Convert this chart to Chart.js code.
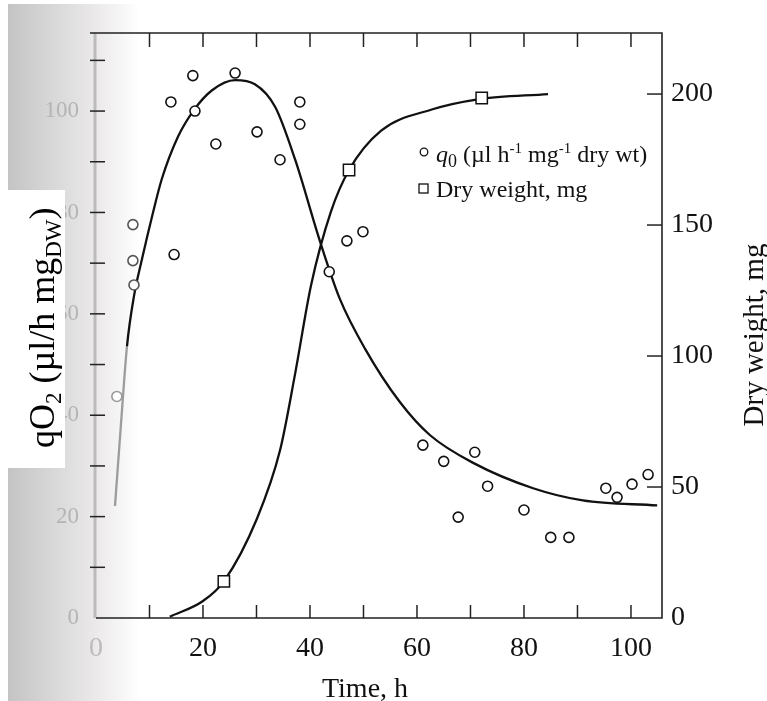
<!DOCTYPE html>
<html><head><meta charset="utf-8">
<script src="https://cdn.jsdelivr.net/npm/chart.js@4.4.1/dist/chart.umd.min.js"></script>
<style>html,body{margin:0;padding:0;background:#fff;}#wrap{width:767px;height:701px;position:relative}</style>
</head><body><div id="wrap"><canvas id="c" width="767" height="701"></canvas></div>
<script>
// ---- data ----
const q0Time  = [3.9, 6.9, 6.9, 7.1, 14.6, 14.0, 18.1, 18.5, 22.4, 26.0, 30.1, 34.4, 38.1, 38.1, 43.6, 46.9, 49.9, 61.1, 65.0, 67.7, 70.8, 73.2, 80.0, 85.0, 88.4, 95.3, 97.4, 100.2, 103.2];
const q0Value = [43.7, 77.6, 70.5, 65.7, 71.7, 101.8, 107.0, 100.0, 93.5, 107.5, 95.9, 90.4, 101.8, 97.4, 68.3, 74.4, 76.2, 34.1, 30.9, 19.9, 32.7, 26.0, 21.3, 15.9, 15.9, 25.6, 23.8, 26.4, 28.3];
const q0FitTime  = [3.55, 4.67, 5.79, 7.1, 8.6, 10.5, 12.3, 15.3, 18.3, 21.7, 26.0, 29.7, 33.5, 37.2, 41.9, 45.6, 50.3, 56.8, 62.4, 70.5, 81.7, 91.0, 104.9];
const q0FitValue = [22.1, 38.3, 53.6, 63.5, 70.8, 79.3, 86.6, 94.9, 100.2, 104.1, 106.1, 105.3, 100.8, 90.5, 74.2, 62.9, 53.1, 42.6, 36.1, 30.6, 25.6, 23.2, 22.2];
const dwTime  = [23.9, 47.3, 72.1];
const dwValue = [14.0, 171.0, 198.5];
const dwFitTime  = [13.8, 20.0, 23.9, 30.1, 34.4, 37.2, 40.2, 43.9, 47.3, 53.3, 62.6, 71.4, 84.5];
const dwFitValue = [0.5, 6.5, 14.0, 38.0, 64.0, 93.0, 127.0, 155.0, 171.0, 186.0, 194.0, 198.0, 200.0];
const timeTicks = [0, 10, 20, 30, 40, 50, 60, 70, 80, 90, 100];
const q0Ticks   = [0, 10, 20, 30, 40, 50, 60, 70, 80, 90, 100, 110];
const dwTicks   = [0, 50, 100, 150, 200];
const xTitle = 'Time, h';
const yRightTitle = 'Dry weight, mg';
const legendQ0 = ['q', '0', ' (µl h', '-1', ' mg', '-1', ' dry wt)'];
const legendDW = 'Dry weight, mg';

const SERIF = "'Liberation Serif', 'Times New Roman', serif";
const pts = (xs, ys) => xs.map((x, i) => ({x, y: ys[i]}));

const drawPlugin = {
  id: 'paper',
  beforeDraw(chart) {
    const ctx = chart.ctx;
    ctx.save();
    ctx.fillStyle = '#fff';
    ctx.fillRect(0, 0, 767, 701);
    const g = ctx.createLinearGradient(8, 0, 140, 0);
    g.addColorStop(0, 'rgb(196,196,196)');
    g.addColorStop(0.4, 'rgb(220,219,219)');
    g.addColorStop(0.68, 'rgb(236,234,234)');
    g.addColorStop(1, 'rgb(255,255,255)');
    ctx.fillStyle = g;
    ctx.fillRect(8, 4, 132, 697);
    ctx.restore();
  },
  afterDraw(chart) {
    const ctx = chart.ctx;
    const a = chart.chartArea;
    const sx = chart.scales.x, sy = chart.scales.y, sy2 = chart.scales.y2;
    ctx.save();
    // left axis (faded) line
    ctx.strokeStyle = 'rgba(175,175,175,0.8)';
    ctx.lineWidth = 3;
    ctx.beginPath(); ctx.moveTo(a.left - 1, a.top); ctx.lineTo(a.left - 1, a.bottom); ctx.stroke();
    // frame
    ctx.lineWidth = 1.6;
    ctx.strokeStyle = '#222';
    ctx.beginPath();
    ctx.moveTo(a.left - 6, a.top); ctx.lineTo(a.right, a.top); ctx.lineTo(a.right, a.bottom); ctx.lineTo(a.left, a.bottom);
    ctx.stroke();
    // inner ticks
    ctx.lineWidth = 1.5;
    timeTicks.forEach(v => {
      if (v === 0) return;
      const px = sx.getPixelForValue(v);
      ctx.beginPath(); ctx.moveTo(px, a.bottom); ctx.lineTo(px, a.bottom - 13); ctx.stroke();
      ctx.beginPath(); ctx.moveTo(px, a.top); ctx.lineTo(px, a.top + 14); ctx.stroke();
    });
    q0Ticks.forEach(v => {
      if (v === 0) return;
      const py = sy.getPixelForValue(v);
      ctx.beginPath(); ctx.moveTo(a.left - 6, py); ctx.lineTo(a.left + 9, py); ctx.stroke();
    });
    dwTicks.forEach(v => {
      if (v === 0) return;
      const py = sy2.getPixelForValue(v);
      ctx.beginPath(); ctx.moveTo(a.right, py); ctx.lineTo(a.right - 15, py); ctx.stroke();
    });
    // x title
    ctx.fillStyle = '#111';
    ctx.font = '28px ' + SERIF;
    ctx.textAlign = 'center';
    ctx.textBaseline = 'alphabetic';
    ctx.fillText(xTitle, 365, 697);
    // right title
    ctx.save();
    ctx.translate(763, 335);
    ctx.rotate(-Math.PI / 2);
    ctx.font = '29px ' + SERIF;
    ctx.textAlign = 'center';
    ctx.fillText(yRightTitle, 0, 0);
    ctx.restore();
    // legend
    ctx.textAlign = 'left';
    ctx.lineWidth = 1.3;
    ctx.strokeStyle = '#111';
    ctx.beginPath(); ctx.arc(424, 152, 3.8, 0, Math.PI * 2); ctx.stroke();
    ctx.strokeRect(419, 184, 9, 9);
    let x = 436;
    const base = 162;
    const seg = (t, font, dy) => { ctx.font = font; ctx.fillText(t, x, base + dy); x += ctx.measureText(t).width; };
    seg(legendQ0[0], 'italic 24px ' + SERIF, 0);
    seg(legendQ0[1], '18px ' + SERIF, 5);
    seg(legendQ0[2], '24px ' + SERIF, 0);
    seg(legendQ0[3], '15px ' + SERIF, -9);
    seg(legendQ0[4], '24px ' + SERIF, 0);
    seg(legendQ0[5], '15px ' + SERIF, -9);
    seg(legendQ0[6], '24px ' + SERIF, 0);
    ctx.font = '24px ' + SERIF;
    ctx.fillText(legendDW, 436, 197);
    // left title in white box
    ctx.fillStyle = '#fff';
    ctx.fillRect(8, 190, 57, 278);
    ctx.fillStyle = '#000';
    ctx.save();
    ctx.translate(54, 448);
    ctx.rotate(-Math.PI / 2);
    let t = 0;
    const seg2 = (s, font, dy) => { ctx.font = font; ctx.fillText(s, t, dy); t += ctx.measureText(s).width; };
    seg2('qO', '36px ' + SERIF, 0);
    seg2('2', '23px ' + SERIF, 7);
    seg2(' (µl/h mg', '36px ' + SERIF, 0);
    seg2('DW', '23px ' + SERIF, 7);
    seg2(')', '36px ' + SERIF, 0);
    ctx.restore();
    ctx.restore();
  }
};

new Chart(document.getElementById('c'), {
  type: 'scatter',
  data: {
    datasets: [
      { label: 'q0 (µl h-1 mg-1 dry wt)', data: pts(q0Time, q0Value), yAxisID: 'y', order: 0,
        pointStyle: 'circle', pointRadius: 5, pointBorderWidth: 1.6, pointBackgroundColor: '#fff',
        pointBorderColor: c => { const v = c.raw ? c.raw.x : 50; return v < 5 ? '#9a9a9a' : (v < 8 ? '#555' : '#111'); } },
      { label: 'Dry weight, mg', data: pts(dwTime, dwValue), yAxisID: 'y2', order: 0,
        pointStyle: 'rect', pointRadius: 8, pointBorderWidth: 1.5, pointBackgroundColor: '#fff', pointBorderColor: '#111' },
      { label: 'q0 fit', data: pts(q0FitTime, q0FitValue), yAxisID: 'y', order: 1, showLine: true,
        pointRadius: 0, borderWidth: 2.3, borderColor: '#111', cubicInterpolationMode: 'monotone',
        segment: { borderColor: c => c.p0.parsed.x < 5.5 ? '#9c9c9c' : '#111' } },
      { label: 'Dry weight fit', data: pts(dwFitTime, dwFitValue), yAxisID: 'y2', order: 1, showLine: true,
        pointRadius: 0, borderWidth: 2.3, borderColor: '#111', cubicInterpolationMode: 'monotone' }
    ]
  },
  options: {
    responsive: false, animation: false, devicePixelRatio: 1,
    layout: { padding: { top: 33, left: 0, right: 0, bottom: 0 } },
    plugins: { legend: { display: false }, tooltip: { enabled: false } },
    scales: {
      x: {
        type: 'linear', position: 'bottom', min: 0, max: 105.8,
        afterBuildTicks: s => { s.ticks = timeTicks.map(v => ({ value: v })); },
        afterFit: s => { s.height = 83; },
        grid: { display: false, drawTicks: false }, border: { display: false },
        ticks: { padding: 14, autoSkip: false, maxRotation: 0, font: { size: 28, family: SERIF },
          color: c => c.tick && c.tick.value === 0 ? '#bcbcbc' : '#111',
          callback: v => (v % 20 === 0 ? String(v) : '') }
      },
      y: {
        type: 'linear', position: 'left', min: 0, max: 115.4,
        afterBuildTicks: s => { s.ticks = q0Ticks.map(v => ({ value: v })); },
        afterFit: s => { s.width = 96; },
        grid: { display: false, drawTicks: false }, border: { display: false },
        ticks: { padding: 17, autoSkip: false, font: { size: 23, family: SERIF }, color: '#b4b4b4',
          callback: v => (v % 20 === 0 ? String(v) : '') }
      },
      y2: {
        type: 'linear', position: 'right', min: 0, max: 223.3,
        afterBuildTicks: s => { s.ticks = dwTicks.map(v => ({ value: v })); },
        afterFit: s => { s.width = 105; },
        grid: { display: false, drawTicks: false }, border: { display: false },
        ticks: { padding: 9, autoSkip: false, font: { size: 28, family: SERIF }, color: '#111' }
      }
    }
  },
  plugins: [drawPlugin]
});
</script>
</body></html>
